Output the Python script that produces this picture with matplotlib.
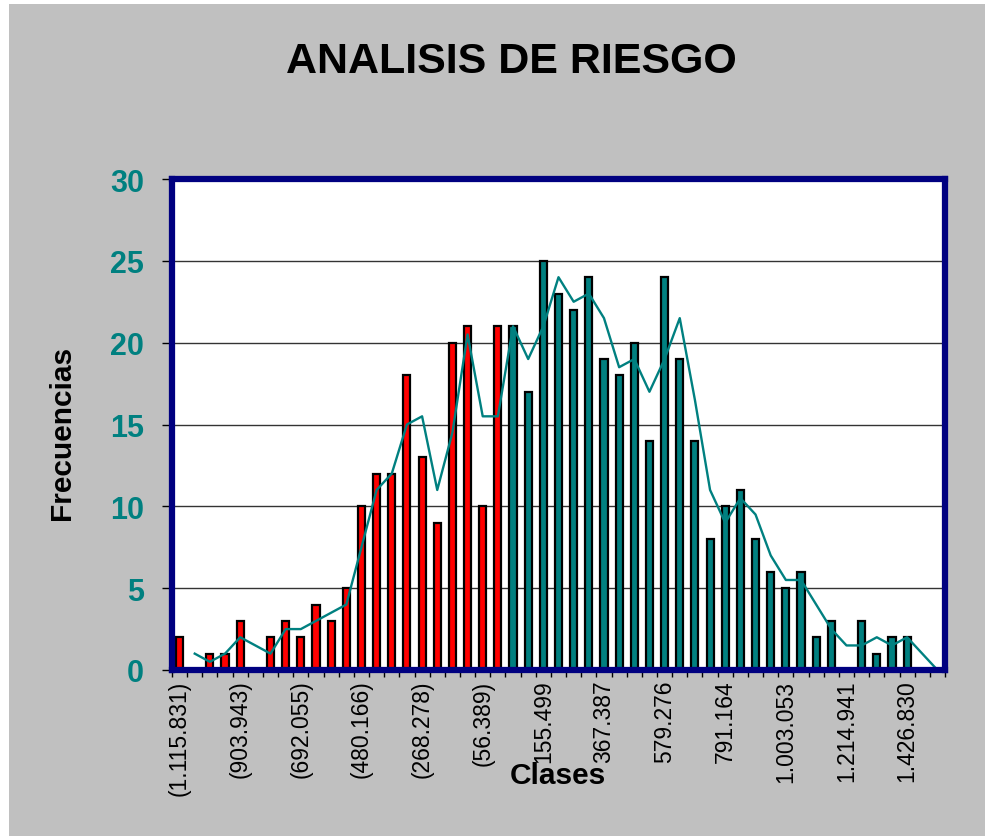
import matplotlib
matplotlib.use("Agg")
import matplotlib.pyplot as plt
import numpy as np
import pandas as pd
from matplotlib.patches import Rectangle

# ---- data ----
frequencies = [2, 0, 1, 1, 3, 0, 2, 3, 2, 4,
               3, 5, 10, 12, 12, 18, 13, 9, 20, 21,
               10, 21, 21, 17, 25, 23, 22, 24, 19, 18,
               20, 14, 24, 19, 14, 8, 10, 11, 8, 6,
               5, 6, 2, 3, 0, 3, 1, 2, 2, 0,
               0]
negative_classes = 22  # first 22 classes have negative values (red)
tick_labels = ["(1.115.831)", "(903.943)", "(692.055)", "(480.166)", "(268.278)",
               "(56.389)", "155.499", "367.387", "579.276", "791.164",
               "1.003.053", "1.214.941", "1.426.830"]
title = "ANALISIS DE RIESGO"
xlabel = "Clases"
ylabel = "Frecuencias"

teal = "#008080"
red = "#FF0000"
navy = "#000080"
gray = "#C0C0C0"

plt.rcParams['font.family'] = ['Liberation Sans', 'DejaVu Sans']

fig = plt.figure(figsize=(9.85, 8.37), dpi=100, facecolor="white")
fig.patches.append(Rectangle((9 / 985, 0), 1, 1 - 5 / 837, transform=fig.transFigure,
                             facecolor=gray, edgecolor="none", zorder=-10))

ax = fig.add_axes([172 / 985, 1 - 671 / 837, (945 - 172) / 985, (671 - 180) / 837])
ax.set_facecolor("white")

n = len(frequencies)
x = np.arange(n)
colors = [red if i < negative_classes else teal for i in range(n)]
ax.bar(x, frequencies, width=0.47, color=colors, edgecolor="black", linewidth=1.6, zorder=3)

ma = pd.Series(frequencies).rolling(2).mean()
ax.plot(x, ma, color=teal, linewidth=1.7, zorder=4)

ax.set_xlim(-0.5, n - 0.5)
ax.set_ylim(0, 30)
ax.set_yticks(np.arange(0, 31, 5))
ax.yaxis.grid(True, color="#333333", linewidth=1.0, zorder=1)
ax.set_axisbelow(True)

ax.tick_params(axis="y", direction="out", length=7, width=1, color="black",
               labelcolor=teal, labelsize=22, pad=13)
for lbl in ax.get_yticklabels():
    lbl.set_fontweight("bold")

label_pos = list(range(0, n, 4))[:len(tick_labels)]
ax.set_xticks(label_pos)
ax.set_xticklabels(tick_labels, rotation=90, fontsize=16.5, va="top", ha="center")
ax.tick_params(axis="x", which="major", length=0, pad=7)
ax.set_xticks(np.arange(-0.5, n, 1), minor=True)
ax.tick_params(axis="x", which="minor", direction="out", length=5, width=1, color="black")

for side in ["top", "bottom", "left", "right"]:
    ax.spines[side].set_color(navy)
    ax.spines[side].set_linewidth(4.5)
    ax.spines[side].set_zorder(5)

fig.text(511 / 985, 1 - 62 / 837, title, ha="center", va="center",
         fontsize=31, fontweight="bold", color="black")
fig.text(558 / 985, 1 - 776 / 837, xlabel, ha="center", va="center",
         fontsize=21.5, fontweight="bold", color="black")
fig.text(62 / 985, 1 - 433 / 837, ylabel, ha="center", va="center", rotation=90,
         fontsize=21.5, fontweight="bold", color="black")

fig.savefig("out.png", dpi=100, facecolor=fig.get_facecolor())
